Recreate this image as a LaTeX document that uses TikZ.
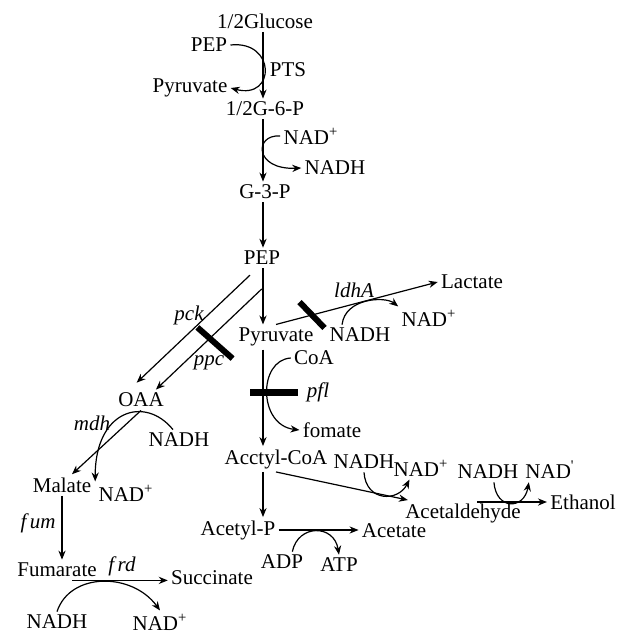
\documentclass[tikz,border=0pt]{standalone}
\usepackage{fontspec}
\setmainfont{Liberation Serif}
\usepackage{tikz}
\usetikzlibrary{arrows.meta}

\begin{document}
\begin{tikzpicture}[
  x=0.5pt, y=-0.5pt,
  font=\fontsize{10.5}{12}\selectfont,
  met/.style={inner sep=1.5pt},
  enz/.style={met, font=\fontsize{10.5}{12}\selectfont\itshape},
  flow/.style={-{Stealth[length=4.5pt,width=3.6pt]}, line width=0.6pt},
  knock/.style={fill=black, inner sep=0pt, minimum height=3pt}
]
\useasboundingbox (0,0) rectangle (617,633);
\coordinate (spine) at (263,0);

% glycolysis
\node[met] (glc) at (265,21) {1/2Glucose};
\node[met] (pepa) at (209,45) {PEP};
\node[met] (pyra) at (190,88) {Pyruvate};
\node[met] (pts) at (288,70) {PTS};
\node[met] (g6p) at (265,109) {1/2G-6-P};
\node[met] (nada) at (311,136) {NAD\textsuperscript{+}};
\node[met] (nadha) at (335,168) {NADH};
\node[met] (g3p) at (265,192) {G-3-P};
\node[met] (pep) at (262,258) {PEP};
\node[met] (pyr) at (276,337) {Pyruvate};

% lactate and formate
\node[met] (lac) at (472,282) {Lactate};
\node[enz] (ldha) at (354,290) {ldhA};
\node[met] (nadhb) at (360,335) {NADH};
\node[met] (nadb) at (429,318) {NAD\textsuperscript{+}};
\node[met] (coa) at (314,358) {CoA};
\node[enz] (pfl) at (318,392) {pfl};
\node[met] (fom) at (332,430) {fomate};

% succinate branch
\node[met] (oaa) at (141,400) {OAA};
\node[enz] (pck) at (189,315) {pck};
\node[enz] (ppc) at (209,363) {ppc};
\node[enz] (mdh) at (92,423) {mdh};
\node[met] (nadhc) at (179,440) {NADH};
\node[met] (mal) at (62,485) {Malate};
\node[met] (nadc) at (126,493) {NAD\textsuperscript{+}};
\node[enz] (fum) at (38,523) {f\,um};
\node[met] (fumr) at (57,570) {Fumarate};
\node[enz] (frd) at (122,566) {f\,rd};
\node[met] (suc) at (212,578) {Succinate};
\node[met] (nadhd) at (57,622) {NADH};
\node[met] (nadd) at (160,622) {NAD\textsuperscript{+}};

% acetate and ethanol
\node[met] (acoa) at (276,459) {Acctyl-CoA};
\node[met] (acp) at (238,530) {Acetyl-P};
\node[met] (act) at (394,531) {Acetate};
\node[met] (adp) at (282,562) {ADP};
\node[met] (atp) at (339,565) {ATP};
\node[met] (nadhe) at (364,462) {NADH};
\node[met] (nade) at (421,468) {NAD\textsuperscript{+}};
\node[met] (ald) at (463,513) {Acetaldehyde};
\node[met] (nadhf) at (488,472) {NADH};
\node[met] (nadf) at (550,470) {NAD\textsuperscript{\textquotesingle}};
\node[met] (eth) at (583,502) {Ethanol};

% knocked-out genes
\node[knock, minimum width=23.5pt, rotate=-41.5] (ppcbar) at (215,343) {};
\node[knock, minimum width=18pt, rotate=-46] (ldhbar) at (312,315) {};
\node[knock, minimum width=24pt, minimum height=3.5pt] (pflbar) at (274,392) {};

\draw[flow] (glc.south -| spine) -- (g6p.north -| spine);
\draw[flow] (g6p.south -| spine) -- (g3p.north -| spine);
\draw[flow] (g3p.south -| spine) -- (pep.north -| spine);
\draw[flow] (pep.south -| spine) -- (pyr.north -| spine);
\draw[flow] (pyr.south -| spine) -- (acoa.north -| spine);
\draw[flow] (acoa.south -| spine) -- (acp.north -| spine);
\draw[flow] (pepa.east) .. controls (276,40) and (276,100) .. (pyra.east);
\draw[flow] (nada.west) .. controls (254,134) and (254,170) .. (nadha.west);

\draw[flow, shorten <=5pt, shorten >=5pt] (pep.-115) -- (oaa.138);
\draw[flow, shorten <=15pt] (pep.south east) -- (oaa.35);
\draw[flow] (pyr.north) -- (lac.west);
\draw[flow] (nadhb.150) .. controls (345,298) and (385,296) .. (nadb.north west);
\draw[flow] (coa.west) .. controls (258,360) and (258,425) .. (fom.west);

\draw[flow] (oaa.south) -- ([xshift=5pt]mal.north);
\draw[flow] (nadhc.120) .. controls (145,395) and (95,410) .. (nadc.north west);
\draw[flow] (mal.south) -- (fumr.north -| mal.south);
\draw[flow, shorten <=7.5pt] (fumr.south) -- (fumr.south -| suc.west);
\draw[flow] (nadhd.north) .. controls (70,572) and (132,572) .. (nadd.north);

\draw[flow] (acp.east) -- (acp.east -| act.west);
\draw[flow] (adp.45) .. controls (298,524) and (334,524) .. (atp.north);
\draw[flow] (acoa.south) -- ([xshift=3pt]ald.north west);
\draw[flow] (nadhe.south) .. controls (366,502) and (398,502) .. (nade.-135);
\draw[flow, shorten <=7pt] (eth.west -| ald.north) -- (eth.west);
\draw[flow] (nadhf.-60) .. controls (496,510) and (524,510) .. (nadf.-150);
\end{tikzpicture}
\end{document}
